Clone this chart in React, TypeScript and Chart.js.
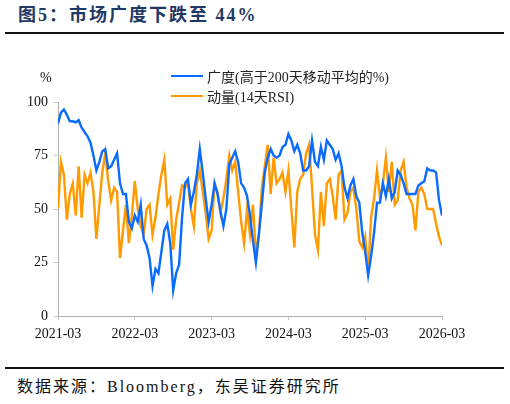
import React, { useEffect, useRef } from "react";
import { Chart, registerables } from "chart.js";

Chart.register(...registerables);

// x-axis tick labels (one per year, every 26 biweekly points)
const xTickLabels = ["2021-03", "2022-03", "2023-03", "2024-03", "2025-03", "2026-03"];
const yTickValues = [0, 25, 50, 75, 100];

const seriesNames = ["广度(高于200天移动平均的%)", "动量(14天RSI)"];

// Breadth: % of stocks above 200-day MA (biweekly readings, 2021-03 .. 2026-03)
const breadth = [
  90, 95, 96.5, 94, 91, 91, 90.5, 91.5, 88, 86, 84, 81, 75, 68, 72, 77, 78, 69, 70, 73, 76, 62,
  57, 57, 44, 41, 47, 44, 52, 36, 33, 27, 14, 22, 20, 30, 40, 43, 34, 12, 20, 24, 46,
  62, 64, 52, 58, 66, 78, 67, 55, 44, 52, 62, 57, 49, 42, 50, 71, 74, 77, 72, 62, 60, 56,
  47, 35, 25, 38, 52, 67, 74, 78, 75, 74, 75, 79, 80, 85, 82, 77, 80, 76, 68, 68, 70,
  82, 72, 70, 79, 73, 82, 80, 78, 73, 76, 70, 60, 55, 61, 64, 56, 53, 39, 30, 19, 28, 39,
  53, 53, 62, 56, 64, 55, 58, 68, 66, 62, 57, 57, 57, 57, 61, 62, 63, 69, 68, 68, 67, 54, 47,
];

// Momentum: 14-day RSI (biweekly readings)
const momentum = [
  50, 72, 66, 45, 57, 62, 47, 70, 46, 66, 62, 67, 58, 36, 52, 67, 76, 63, 54, 60, 58, 27,
  40, 52, 34, 47, 63, 50, 42, 38, 50, 52, 38, 46, 57, 66, 73, 52, 55, 31, 45, 53, 61,
  60, 62, 50, 42, 62, 68, 58, 48, 36, 40, 62, 58, 48, 55, 64, 75, 68, 72, 58, 44, 34, 50,
  38, 52, 29, 38, 60, 70, 80, 57, 74, 62, 64, 67, 58, 68, 50, 32, 58, 64, 66, 76, 80,
  60, 38, 31, 58, 42, 62, 64, 56, 45, 66, 68, 45, 48, 58, 60, 50, 35, 32, 37, 20, 46, 55,
  68, 55, 62, 74, 58, 72, 52, 54, 68, 72, 60, 55, 52, 40, 58, 60, 57, 50, 50, 50, 43, 37, 33,
];

const BLUE = "#0A6CFF";
const ORANGE = "#FF9A00";
const FONT = '"Liberation Serif", "Noto Sans CJK SC", serif';

function ChartCanvas() {
  const ref = useRef<HTMLCanvasElement | null>(null);
  useEffect(() => {
    if (!ref.current) return;
    Chart.defaults.font.family = FONT;
    const chart = new Chart(ref.current, {
      type: "line",
      data: {
        datasets: [
          {
            label: seriesNames[0],
            data: breadth.map((v, i) => ({ x: i, y: v })),
            borderColor: BLUE,
            borderWidth: 2.4,
            pointRadius: 0,
            tension: 0,
          },
          {
            label: seriesNames[1],
            data: momentum.map((v, i) => ({ x: i, y: v })),
            borderColor: ORANGE,
            borderWidth: 2.4,
            pointRadius: 0,
            tension: 0,
          },
        ],
      },
      options: {
        animation: false,
        responsive: false,
        maintainAspectRatio: false,
        layout: { padding: { top: 62, right: 68, left: 0, bottom: 0 } },
        plugins: { legend: { display: false }, tooltip: { enabled: false } },
        scales: {
          x: {
            type: "linear",
            min: 0,
            max: (xTickLabels.length - 1) * 26,
            afterFit: (s: any) => {
              s.height = 44;
            },
            afterBuildTicks: (s: any) => {
              s.ticks = xTickLabels.map((_, k) => ({ value: k * 26 }));
            },
            ticks: {
              callback: (v: any) => xTickLabels[Math.round(Number(v) / 26)],
              color: "#111",
              font: { size: 14, family: FONT },
              padding: 6,
              maxRotation: 0,
              autoSkip: false,
            },
            grid: { drawOnChartArea: false, drawTicks: true, tickLength: 4, color: "#c8c8c8" },
            border: { color: "#b0b0b0", width: 1 },
          },
          y: {
            min: 0,
            max: 100,
            afterFit: (s: any) => {
              s.width = 58;
            },
            afterBuildTicks: (s: any) => {
              s.ticks = yTickValues.map((v) => ({ value: v }));
            },
            ticks: {
              color: "#111",
              font: { size: 14, family: FONT },
              padding: 6,
            },
            grid: { drawOnChartArea: false, drawTicks: true, tickLength: 4, color: "#c8c8c8" },
            border: { color: "#b0b0b0", width: 1 },
          },
        },
      },
    });
    return () => chart.destroy();
  }, []);
  return (
    <canvas
      ref={ref}
      width={510}
      height={320}
      style={{ position: "absolute", left: 0, top: 40, width: 510, height: 320 }}
    />
  );
}

export default function App() {
  useEffect(() => {
    document.body.style.margin = "0";
  }, []);
  const legendRow = (color: string, text: string, top: number) => (
    <div style={{ position: "absolute", left: 171, top: top - 10, height: 20, display: "flex", alignItems: "center" }}>
      <div style={{ width: 32, height: 2.5, background: color }} />
      <span style={{ marginLeft: 4, fontSize: 14, color: "#222", fontFamily: FONT, whiteSpace: "nowrap" }}>{text}</span>
    </div>
  );
  return (
    <div style={{ position: "absolute", left: 0, top: 0, width: 510, height: 404, background: "#fff", overflow: "hidden" }}>
      <div
        style={{
          position: "absolute",
          left: 18,
          top: 3,
          fontSize: 18,
          lineHeight: "24px",
          fontWeight: 700,
          color: "#1f3864",
          letterSpacing: 2,
          fontFamily: FONT,
          whiteSpace: "nowrap",
        }}
      >
        图5：市场广度下跌至 44%
      </div>
      <div style={{ position: "absolute", left: 5, top: 32, width: 499, height: 2, background: "#111" }} />
      <ChartCanvas />
      <div style={{ position: "absolute", left: 40, top: 70, fontSize: 14, color: "#111", fontFamily: FONT }}>%</div>
      {legendRow(BLUE, seriesNames[0], 76)}
      {legendRow(ORANGE, seriesNames[1], 96)}
      <div style={{ position: "absolute", left: 5, top: 367, width: 499, height: 2, background: "#111" }} />
      <div
        style={{
          position: "absolute",
          left: 17,
          top: 375,
          fontSize: 16,
          lineHeight: "24px",
          color: "#111",
          letterSpacing: 2,
          fontFamily: FONT,
          whiteSpace: "nowrap",
        }}
      >
        数据来源：Bloomberg，东吴证券研究所
      </div>
    </div>
  );
}
